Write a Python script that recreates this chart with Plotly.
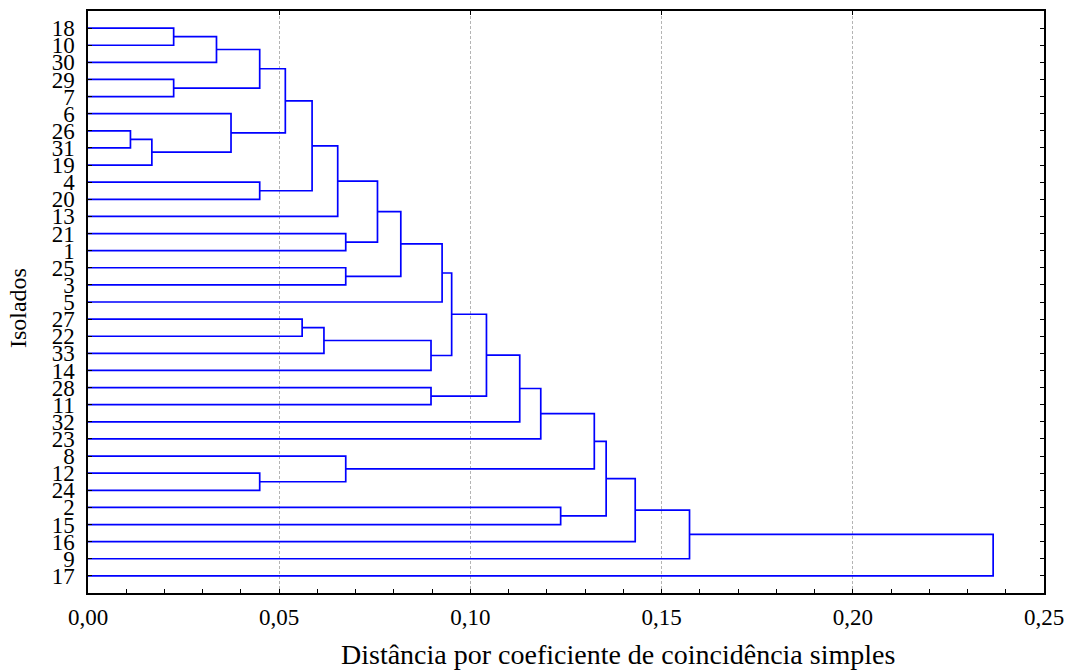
import plotly.graph_objects as go

# Leaf order of the dendrogram, top to bottom
leaves = ["18", "10", "30", "29", "7", "6", "26", "31", "19", "4", "20", "13",
          "21", "1", "25", "3", "5", "27", "22", "33", "14", "28", "11", "32",
          "23", "8", "12", "24", "2", "15", "16", "9", "17"]

# Agglomeration steps: children are leaf labels or "m<k>" (k-th merge)
merge_left = ["18", "m0", "29", "m1", "26", "m4", "6", "m3", "4", "m7", "m9",
              "21", "m10", "25", "m12", "m14", "27", "m16", "m17", "m15", "28",
              "m19", "m21", "m22", "12", "8", "m23", "2", "m26", "m28", "m29",
              "m30"]
merge_right = ["10", "30", "7", "m2", "31", "19", "m5", "m6", "20", "m8", "13",
               "1", "m11", "3", "m13", "5", "22", "33", "14", "m18", "11",
               "m20", "32", "23", "24", "m24", "m25", "15", "m27", "16", "9",
               "17"]
merge_height = [0.0224, 0.0336, 0.0224, 0.0449, 0.0111, 0.0167, 0.0374, 0.0516,
                0.0449, 0.0586, 0.0653, 0.0674, 0.0757, 0.0674, 0.0818, 0.0926,
                0.0560, 0.0617, 0.0897, 0.0951, 0.0897, 0.1042, 0.1129, 0.1184,
                0.0449, 0.0674, 0.1324, 0.1236, 0.1355, 0.1431, 0.1573, 0.2367]

x_tick_values = [0.00, 0.05, 0.10, 0.15, 0.20, 0.25]
x_tick_labels = ["0,00", "0,05", "0,10", "0,15", "0,20", "0,25"]

x_title = "Distância por coeficiente de coincidência simples"
y_title = "Isolados"

# Positions of nodes: leaves at their row index, clusters at mid-point of children
node_y = {lab: i for i, lab in enumerate(leaves)}
node_h = {lab: 0.0 for lab in leaves}

xs, ys = [], []
for k, (a, b, h) in enumerate(zip(merge_left, merge_right, merge_height)):
    ya, yb = node_y[a], node_y[b]
    xs += [node_h[a], h, h, node_h[b], None]
    ys += [ya, ya, yb, yb, None]
    node_y[f"m{k}"] = (ya + yb) / 2
    node_h[f"m{k}"] = h

serif = "Liberation Serif"

fig = go.Figure()
fig.add_trace(go.Scatter(
    x=xs, y=ys, mode="lines",
    line=dict(color="#0000ff", width=1.7),
    hoverinfo="skip", showlegend=False,
))
# invisible trace so the top companion axis is drawn
fig.add_trace(go.Scatter(
    x=[0, 0.25], y=[0, 0], xaxis="x2", mode="markers",
    marker=dict(opacity=0), hoverinfo="skip", showlegend=False,
))

n = len(leaves)
fig.update_layout(
    width=1075, height=670,
    margin=dict(l=88, r=25, t=11, b=77),
    paper_bgcolor="white", plot_bgcolor="white",
    font=dict(family=serif, color="black", size=23),
    xaxis=dict(
        range=[0, 0.25], tickvals=x_tick_values, ticktext=x_tick_labels,
        ticks="inside", ticklen=4, tickwidth=1.3, tickcolor="black",
        minor=dict(dtick=0.01, tick0=0, ticks="inside", ticklen=4,
                   tickwidth=1.3, tickcolor="black", showgrid=False),
        showline=True, linecolor="black", linewidth=1.5,
        showgrid=True, gridcolor="#b4b4b4", griddash="3px,2px", gridwidth=1,
        zeroline=False, tickfont=dict(size=23), ticklabelstandoff=3,
    ),
    xaxis2=dict(
        range=[0, 0.25], overlaying="x", side="top", tickvals=x_tick_values,
        ticks="inside", ticklen=4, tickwidth=1.3, tickcolor="black",
        showticklabels=False, showline=True, linecolor="black", linewidth=1.5,
        showgrid=False, zeroline=False,
    ),
    yaxis=dict(
        range=[n, -1], tickvals=list(range(n)), ticktext=leaves,
        ticks="inside", ticklen=4, tickwidth=1.3, tickcolor="black",
        showline=True, linecolor="black", linewidth=1.5, mirror="ticks",
        showgrid=False, zeroline=False, tickfont=dict(size=23),
        ticklabelstandoff=7,
    ),
    annotations=[
        dict(text=x_title, xref="paper", yref="paper", x=0.554, y=-0.106,
             xanchor="center", yanchor="middle", showarrow=False,
             font=dict(size=28)),
        dict(text=y_title, xref="paper", yref="paper", x=-0.073, y=0.49,
             xanchor="center", yanchor="middle", showarrow=False,
             textangle=-90, font=dict(size=24)),
    ],
)

fig.write_html("out.html")
